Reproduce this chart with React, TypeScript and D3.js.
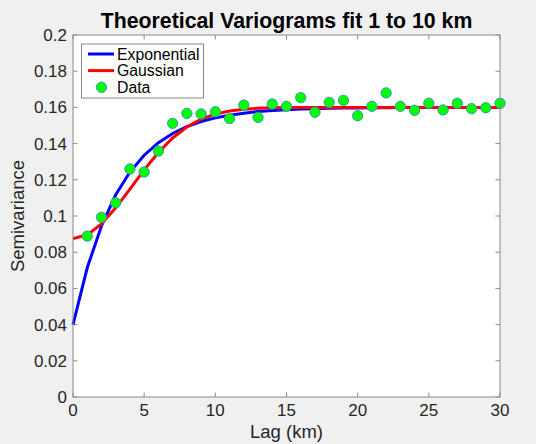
import React from "react";
import * as d3 from "d3";

const lags = d3.range(0, 31);
const expValues = [
  0.04, 0.0714, 0.0945, 0.1117, 0.1243, 0.1336, 0.1405, 0.1456, 0.1494, 0.1522,
  0.1542, 0.1557, 0.1568, 0.1577, 0.1583, 0.1587, 0.1591, 0.1593, 0.1595, 0.1596,
  0.1597, 0.1598, 0.1598, 0.1599, 0.1599, 0.1599, 0.16, 0.16, 0.16, 0.16, 0.16,
];
const gaussValues = [
  0.0875, 0.0896, 0.0956, 0.1045, 0.1149, 0.1255, 0.1351, 0.1431, 0.1492, 0.1535,
  0.1563, 0.158, 0.159, 0.1595, 0.1598, 0.1599, 0.16, 0.16, 0.16, 0.16,
  0.16, 0.16, 0.16, 0.16, 0.16, 0.16, 0.16, 0.16, 0.16, 0.16, 0.16,
];
const dataLags = d3.range(1, 31);
const dataValues = [
  0.0889, 0.0993, 0.1073, 0.126, 0.1243, 0.1359, 0.1512, 0.1567, 0.1564, 0.1576,
  0.1538, 0.1613, 0.1545, 0.1619, 0.1606, 0.1654, 0.1573, 0.1628, 0.1639, 0.1554,
  0.1606, 0.168, 0.1606, 0.1584, 0.1623, 0.1586, 0.1623, 0.1593, 0.1598, 0.1623,
];
const xTicks = [0, 5, 10, 15, 20, 25, 30];
const yTicks = [0, 0.02, 0.04, 0.06, 0.08, 0.1, 0.12, 0.14, 0.16, 0.18, 0.2];
const legendItems = ["Exponential", "Gaussian", "Data"];

const W = 536;
const H = 444;
const L = 73, R = 500, T = 35, B = 397;
const FONT = "'Liberation Sans', Arial, Helvetica, sans-serif";
const AX = "#8a8a8a";
const TXT = "#262626";

export default function App() {
  const x = d3.scaleLinear().domain([0, 30]).range([L, R]);
  const y = d3.scaleLinear().domain([0, 0.2]).range([B, T]);
  const line = d3
    .line<number>()
    .x((_, i) => x(lags[i]))
    .y((d) => y(d));
  const tk = 4.5;
  return (
    <div style={{ position: "fixed", left: 0, top: 0 }}>
      <svg width={W} height={H} style={{ display: "block" }} fontFamily={FONT}>
        <rect x={0} y={0} width={W} height={H} fill="#f0f0f0" />
        <rect x={L} y={T} width={R - L} height={B - T} fill="#ffffff" />
        <defs>
          <clipPath id="plotclip">
            <rect x={L - 2} y={T} width={R - L + 4} height={B - T} />
          </clipPath>
        </defs>
        {xTicks.map((t) => (
          <g key={"xt" + t}>
            <line x1={x(t)} x2={x(t)} y1={B} y2={B - tk} stroke={AX} strokeWidth={1} />
            <line x1={x(t)} x2={x(t)} y1={T} y2={T + tk} stroke={AX} strokeWidth={1} />
            <text x={x(t)} y={B + 19} textAnchor="middle" fontSize={17} fill={TXT}>
              {d3.format("~g")(t)}
            </text>
          </g>
        ))}
        {yTicks.map((t) => (
          <g key={"yt" + t}>
            <line x1={L} x2={L + tk} y1={y(t)} y2={y(t)} stroke={AX} strokeWidth={1} />
            <line x1={R} x2={R - tk} y1={y(t)} y2={y(t)} stroke={AX} strokeWidth={1} />
            <text x={L - 6} y={y(t) + 6} textAnchor="end" fontSize={17} fill={TXT}>
              {d3.format("~g")(t)}
            </text>
          </g>
        ))}
        <g clipPath="url(#plotclip)">
          <path d={line(expValues) || ""} fill="none" stroke="#0000ff" strokeWidth={3} />
          <path d={line(gaussValues) || ""} fill="none" stroke="#ff0000" strokeWidth={3} />
        </g>
        {dataValues.map((v, i) => (
          <circle
            key={"p" + i}
            cx={x(dataLags[i])}
            cy={y(v)}
            r={5.2}
            fill="#00ff00"
            stroke="#3a8ad0"
            strokeWidth={0.9}
          />
        ))}
        <rect x={L} y={T} width={R - L} height={B - T} fill="none" stroke={AX} strokeWidth={1} />
        <g>
          <rect x={81.5} y={44} width={122} height={54} fill="#ffffff" stroke={AX} strokeWidth={1} />
          {legendItems.map((name, i) => {
            const ly = 54 + i * 16.6;
            return (
              <g key={name}>
                {i === 0 && <line x1={88} x2={114} y1={ly} y2={ly} stroke="#0000ff" strokeWidth={3} />}
                {i === 1 && <line x1={88} x2={114} y1={ly} y2={ly} stroke="#ff0000" strokeWidth={3} />}
                {i === 2 && (
                  <circle cx={101.5} cy={ly} r={5.2} fill="#00ff00" stroke="#3a8ad0" strokeWidth={0.9} />
                )}
                <text x={117} y={ly + 5.5} fontSize={15.8} fill="#000000">
                  {name}
                </text>
              </g>
            );
          })}
        </g>
        <text x={(L + R) / 2} y={28} textAnchor="middle" fontSize={21.3} fontWeight="bold" fill="#000000">
          Theoretical Variograms fit 1 to 10 km
        </text>
        <text x={(L + R) / 2} y={438} textAnchor="middle" fontSize={18.5} fill={TXT}>
          Lag (km)
        </text>
        <text
          transform={`translate(23.5, ${(T + B) / 2}) rotate(-90)`}
          textAnchor="middle"
          fontSize={18.5}
          fill={TXT}
        >
          Semivariance
        </text>
      </svg>
    </div>
  );
}
